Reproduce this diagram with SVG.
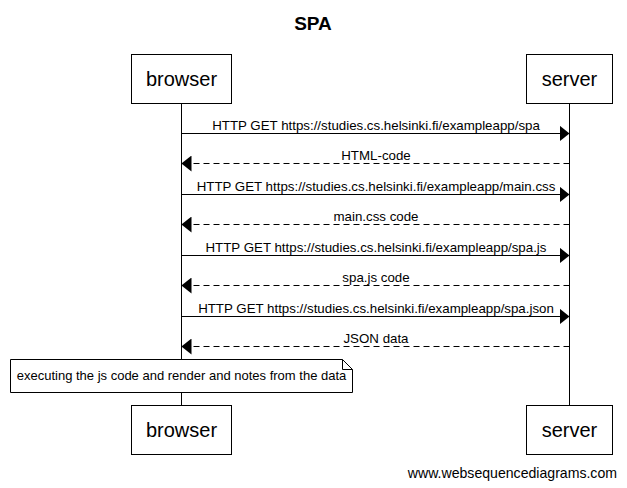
<svg xmlns="http://www.w3.org/2000/svg" width="627" height="488" viewBox="0 0 627 488">
<style>
text{font-family:"Liberation Sans",Arial,sans-serif;fill:#000}
.box{fill:#fff;stroke:#000;stroke-width:1}
.life{stroke:#000;stroke-width:1}
.msg{stroke:#000;stroke-width:1;fill:none}
.dash{stroke-dasharray:6,4}
.lbl{font-size:13.3px;text-anchor:middle}
.part{font-size:20px;text-anchor:middle}
</style>
<defs>
<marker id="ah" markerWidth="10" markerHeight="16" refX="10" refY="8" orient="auto" markerUnits="userSpaceOnUse">
<path d="M0,0 L10,8 L0,16 Z" fill="#000"/>
</marker>
</defs>
<rect width="627" height="488" fill="#fff"/>
<text x="313" y="30" font-size="19" font-weight="bold" text-anchor="middle">SPA</text>
<g id="lifelines">
<line class="life" x1="181.5" y1="103" x2="181.5" y2="406"/>
<line class="life" x1="569.5" y1="103" x2="569.5" y2="406"/>
</g>
<g id="browser">
<rect class="box" x="131.5" y="54.5" width="100" height="49"/>
<text class="part" x="181.5" y="86">browser</text>
</g>
<g id="server">
<rect class="box" x="526.5" y="54.5" width="86" height="49"/>
<text class="part" x="569.5" y="86">server</text>
</g>
<g id="browser-bottom">
<rect class="box" x="131.5" y="405.5" width="100" height="49"/>
<text class="part" x="181.5" y="437">browser</text>
</g>
<g id="server-bottom">
<rect class="box" x="526.5" y="405.5" width="86" height="49"/>
<text class="part" x="569.5" y="437">server</text>
</g>
<g id="connectors">
<line class="msg" x1="181.5" y1="133.5" x2="569.5" y2="133.5" marker-end="url(#ah)"/>
<text class="lbl" x="376" y="130">HTTP GET https://studies.cs.helsinki.fi/exampleapp/spa</text>
<line class="msg dash" x1="569.5" y1="163.5" x2="181.5" y2="163.5" marker-end="url(#ah)"/>
<text class="lbl" x="376" y="160">HTML-code</text>
<line class="msg" x1="181.5" y1="194.5" x2="569.5" y2="194.5" marker-end="url(#ah)"/>
<text class="lbl" x="376" y="191">HTTP GET https://studies.cs.helsinki.fi/exampleapp/main.css</text>
<line class="msg dash" x1="569.5" y1="224.5" x2="181.5" y2="224.5" marker-end="url(#ah)"/>
<text class="lbl" x="376" y="221">main.css code</text>
<line class="msg" x1="181.5" y1="255.5" x2="569.5" y2="255.5" marker-end="url(#ah)"/>
<text class="lbl" x="376" y="252">HTTP GET https://studies.cs.helsinki.fi/exampleapp/spa.js</text>
<line class="msg dash" x1="569.5" y1="285.5" x2="181.5" y2="285.5" marker-end="url(#ah)"/>
<text class="lbl" x="376" y="282">spa.js code</text>
<line class="msg" x1="181.5" y1="316.5" x2="569.5" y2="316.5" marker-end="url(#ah)"/>
<text class="lbl" x="376" y="313">HTTP GET https://studies.cs.helsinki.fi/exampleapp/spa.json</text>
<line class="msg dash" x1="569.5" y1="346.5" x2="181.5" y2="346.5" marker-end="url(#ah)"/>
<text class="lbl" x="376" y="343">JSON data</text>
</g>
<g id="note">
<path d="M10.5,359.5 L342.5,359.5 L352.5,369.5 L352.5,392.5 L10.5,392.5 Z" fill="#fff" stroke="#000"/>
<path d="M342.5,359.5 L342.5,369.5 L352.5,369.5" fill="none" stroke="#000"/>
<text x="181.5" y="380" font-size="13" text-anchor="middle">executing the js code and render and notes from the data</text>
</g>
<text x="617" y="478" font-size="14.1" text-anchor="end">www.websequencediagrams.com</text>
</svg>
